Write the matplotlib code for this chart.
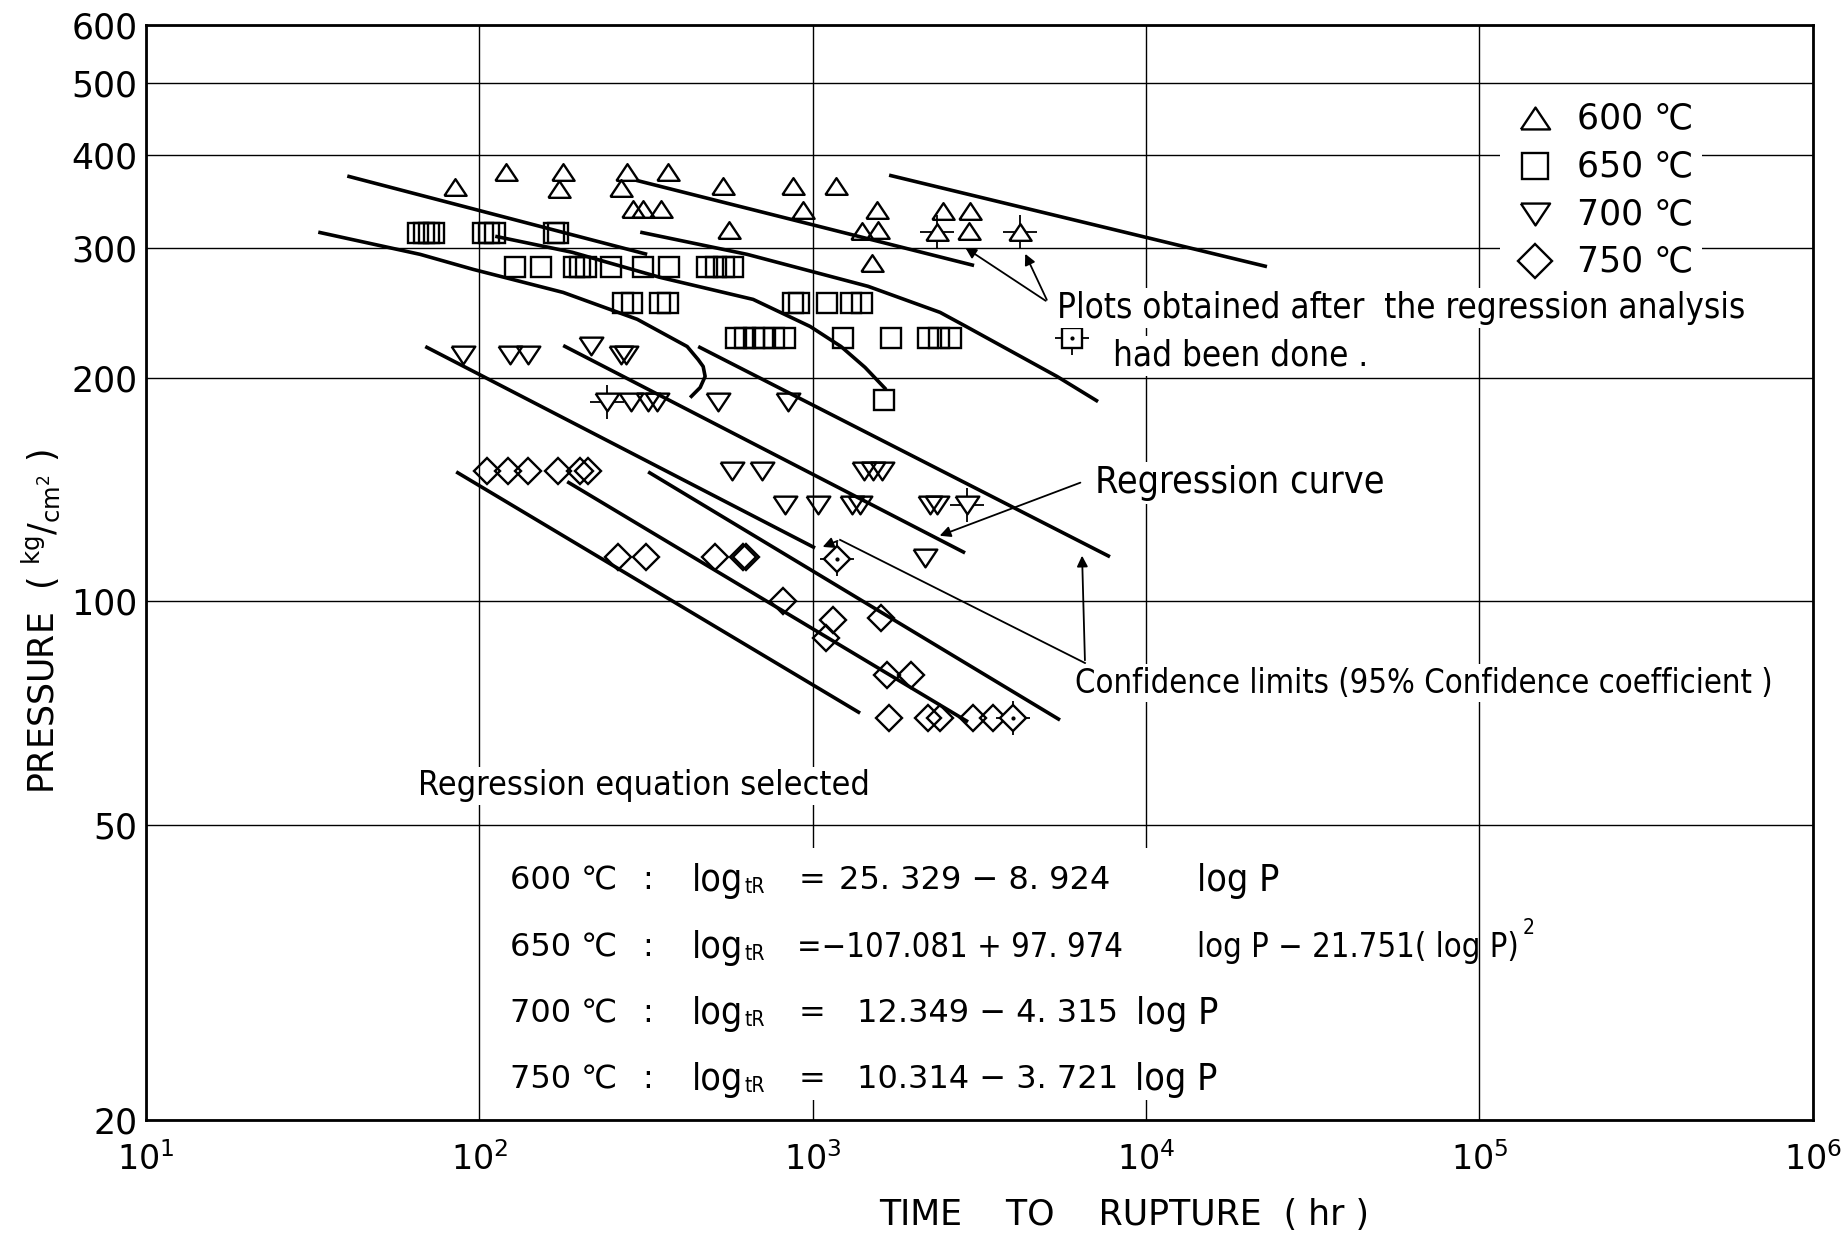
import matplotlib.pyplot as plt
from matplotlib.patches import Rectangle
from matplotlib.ticker import NullLocator

plt.rcParams['font.family'] = ['DejaVu Sans']
plt.rcParams['mathtext.default'] = 'regular'

# ozka pisava za opombe
OZKA = dict(family='DejaVu Sans', stretch='condensed')

# --- izmerki: cas do porusitve [h] in tlak [kg/cm2] ---
t_600 = [84.7, 120.4, 178.6, 173.8, 277.8, 266.6, 368.7, 289.7, 310.5, 351.6, 539.6,
         874, 1176, 562, 936.6, 1560, 1406, 1570, 1507, 2460, 2965, 2945]
p_600 = [362, 380, 380, 360, 380, 361, 380, 338, 338, 338, 363,
         363, 363, 317, 337, 337, 316, 317, 286, 336, 336, 316]
t_600_nov = [2361, 4188]
p_600_nov = [315, 315]

t_650 = [65.6, 68.4, 70.8, 73.3, 102.8, 107.1, 111.7, 168, 172.6,
         128.3, 153.5, 192.8, 201, 209.4, 248.8, 310.5, 371.5, 482.8, 513.8, 543.1, 577.9,
         270.4, 287.8, 349, 368.7, 874, 911, 1105, 1305, 1406,
         589.6, 627.6, 667.8, 710.6, 766.8, 827, 1235, 1719, 2218, 2393, 2600,
         1637]
p_650 = [314, 314, 314, 314, 314, 314, 314, 314, 314,
         283, 283, 283, 283, 283, 283, 283, 283, 283, 283, 283, 283,
         253, 253, 253, 253, 253, 253, 253, 253, 253,
         227, 227, 227, 227, 227, 227, 227, 227, 227, 227, 227,
         187]

t_700 = [89.6, 123.8, 140.3, 216.6, 266.6, 275.8,
         286, 321, 342, 521, 845,
         574, 706, 1426, 1517, 1615,
         827, 1039, 1312, 1387, 2249, 2361,
         2173]
p_700 = [215, 215, 215, 221, 215, 215,
         186, 186, 186, 186, 186,
         150, 150, 150, 150, 150,
         135, 135, 135, 135, 135, 135,
         114.5]
t_700_nov = [242, 2904]
p_700_nov = [186, 135]

t_750 = [105.7, 122.2, 140.3, 172.6, 201, 212.3,
         261, 317, 510, 619, 632,
         816, 1152, 1098, 1605,
         1673, 1974,
         1694, 2218, 2410, 3027, 3475]
p_750 = [150, 150, 150, 150, 150, 150,
         115, 115, 115, 115, 115,
         100, 94.4, 89.3, 95,
         79.6, 79.6,
         69.6, 69.6, 69.6, 69.6, 69.6]
t_750_nov = [1184, 3990]
p_750_nov = [114, 69.6]

# simbol pri opombi
t_oznaka = [5998]
p_oznaka = [227]

# --- regresijske krivulje in meje zaupanja ---
t_600_zg = [1696, 23060]
p_600_zg = [376, 283]
t_600_reg = [296, 3050]
p_600_reg = [370, 284]
t_600_sp = [40.2, 319]
p_600_sp = [375, 294]

t_650_zg = [304, 636.3, 1467, 2412, 2886, 5409, 7180]
p_650_zg = [315, 294, 266.2, 245.5, 235, 201.2, 186.1]
t_650_reg = [111.7, 190.1, 348.9, 663.2, 983, 1217, 1437, 1661]
p_650_reg = [311, 295.9, 273.7, 255.6, 235, 220.8, 206.9, 193.2]
t_650_sp = [32.9, 66.5, 95.9, 178.6, 297.8, 420.5, 453.7, 469.6, 476, 460, 429.2]
p_650_sp = [315, 294, 280.6, 261.2, 240.3, 220.8, 212, 207.5, 201.2, 194.4, 188.4]

t_700_zg = [453.7, 7798]
p_700_zg = [220.8, 114.9]
t_700_reg = [178.6, 2866]
p_700_reg = [221.5, 116.3]
t_700_sp = [68.9, 1017]
p_700_sp = [220.8, 118.1]

t_750_zg = [321.1, 5522]
p_750_zg = [149.6, 69.2]
t_750_reg = [183.6, 2926]
p_750_reg = [145.1, 68.8]
t_750_sp = [85.3, 1388]
p_750_sp = [149.6, 70.7]

y_oznake = [20, 50, 100, 200, 300, 400, 500, 600]
x_oznake = [1e1, 1e2, 1e3, 1e4, 1e5, 1e6]
x_napisi = [r'$10^{1}$', r'$10^{2}$', r'$10^{3}$', r'$10^{4}$', r'$10^{5}$', r'$10^{6}$']
legenda = ['600 ℃', '650 ℃', '700 ℃', '750 ℃']

# markerji (trikotnik je nizji kot sirok)
gor = [(-1, -0.75), (1, -0.75), (0, 0.75), (-1, -0.75)]
dol = [(-1, 0.75), (1, 0.75), (0, -0.75), (-1, 0.75)]

fig = plt.figure(figsize=(18.46, 12.43), dpi=100)
ax = fig.add_axes([0.079, 0.0993, 0.903, 0.8808])
ax.set_xscale('log')
ax.set_yscale('log')
ax.set_xlim(10, 1e6)
ax.set_ylim(20, 600)

ax.set_yticks(y_oznake)
ax.set_yticklabels([str(v) for v in y_oznake])
ax.set_xticks(x_oznake)
ax.set_xticklabels(x_napisi)
ax.yaxis.set_minor_locator(NullLocator())
ax.xaxis.set_minor_locator(NullLocator())
ax.tick_params(axis='y', length=0, labelsize=25, pad=6)
ax.tick_params(axis='x', length=0, labelsize=24, pad=16)
ax.grid(True, color='black', linewidth=1.0)
ax.set_axisbelow(True)
for s in ax.spines.values():
    s.set_linewidth(2.0)

# krivulje
crta = dict(color='black', linewidth=2.6, solid_capstyle='butt', zorder=2)
for tt, pp in [(t_600_zg, p_600_zg), (t_600_reg, p_600_reg), (t_600_sp, p_600_sp),
               (t_650_zg, p_650_zg), (t_650_reg, p_650_reg), (t_650_sp, p_650_sp),
               (t_700_zg, p_700_zg), (t_700_reg, p_700_reg), (t_700_sp, p_700_sp),
               (t_750_zg, p_750_zg), (t_750_reg, p_750_reg), (t_750_sp, p_750_sp)]:
    ax.plot(tt, pp, **crta)

# tocke
tocka = dict(linestyle='none', markerfacecolor='none', markeredgecolor='black',
             markeredgewidth=1.7, zorder=3)
ax.plot(t_600, p_600, marker=gor, markersize=16, **tocka)
ax.plot(t_650, p_650, marker='s', markersize=14.5, **tocka)
ax.plot(t_700, p_700, marker=dol, markersize=17, **tocka)
ax.plot(t_750, p_750, marker='D', markersize=13, **tocka)

# tocke dobljene po regresiji (s krizcem)
kriz = dict(linestyle='none', marker='+', markersize=24, markeredgewidth=1.3,
            color='black', zorder=3)
bela = dict(linestyle='none', markerfacecolor='white', markeredgecolor='black',
            markeredgewidth=1.7, zorder=3.5)
ax.plot(t_600_nov, p_600_nov, **kriz)
ax.plot(t_600_nov, p_600_nov, marker=gor, markersize=16, **bela)
ax.plot(t_700_nov, p_700_nov, **kriz)
ax.plot(t_700_nov, p_700_nov, marker=dol, markersize=17, **bela)
ax.plot(t_750_nov, p_750_nov, **kriz)
ax.plot(t_750_nov, p_750_nov, marker='D', markersize=13, **bela)
ax.plot(t_750_nov, p_750_nov, linestyle='none', marker='.', markersize=4, color='black', zorder=4)
ax.plot(t_oznaka, p_oznaka, **kriz)
ax.plot(t_oznaka, p_oznaka, marker='s', markersize=14.5, **bela)
ax.plot(t_oznaka, p_oznaka, linestyle='none', marker='.', markersize=4, color='black', zorder=4)

# legenda
ax.add_patch(Rectangle((0.8122, 0.7631), 0.1212, 0.1772, transform=ax.transAxes,
                       facecolor='white', edgecolor='none', zorder=1))
leg_y = [0.9148, 0.871, 0.8271, 0.7845]
leg_m = [(gor, 21), ('s', 19), (dol, 21), ('D', 17)]
for i in range(4):
    ax.plot([0.8332], [leg_y[i]], transform=ax.transAxes, marker=leg_m[i][0],
            markersize=leg_m[i][1], **tocka)
    ax.text(0.8584, leg_y[i], legenda[i], transform=ax.transAxes, fontsize=25,
            va='center', ha='left')

# puscice
puscica = dict(arrowstyle='-|>', color='black', lw=1.3, mutation_scale=16)
ax.annotate('', xy=(2827, 301.5), xytext=(5082, 253.3), arrowprops=puscica)
ax.annotate('', xy=(4307, 296.8), xytext=(5082, 253.3), arrowprops=puscica)
ax.annotate('', xy=(2362, 122.3), xytext=(6471, 145.1), arrowprops=puscica)
ax.annotate('', xy=(6427, 116.3), xytext=(6562, 82.6), arrowprops=puscica)
ax.plot([6562, 1209], [82.6, 121.1], color='black', lw=1.3, zorder=2)
ax.annotate('', xy=(1053, 118.1), xytext=(1209, 121.1), arrowprops=puscica)

# napisi
belo = dict(facecolor='white', edgecolor='none', pad=2)
fig.text(0.5726, 0.7522, 'Plots obtained after  the regression analysis',
         fontsize=25, va='center', ha='left', bbox=belo, **OZKA)
fig.text(0.6029, 0.7136, 'had been done .', fontsize=25,
         va='center', ha='left', bbox=belo, **OZKA)
fig.text(0.5932, 0.6114, 'Regression curve', fontsize=27,
         va='center', ha='left', bbox=belo, **OZKA)
fig.text(0.5823, 0.4505, 'Confidence limits (95% Confidence coefficient )',
         fontsize=23.5, va='center', ha='left', bbox=belo, **OZKA)
fig.text(0.2264, 0.3677, 'Regression equation selected', fontsize=24.5,
         va='center', ha='left', bbox=belo, **OZKA)

# enacbe
ax.add_patch(Rectangle((0.2124, 0.0179), 0.4769, 0.2302, transform=ax.transAxes,
                       facecolor='white', edgecolor='none', zorder=1))
vrstice = [0.2915, 0.2376, 0.1845, 0.1315]
temp = ['600 ℃', '650 ℃', '700 ℃', '750 ℃']
for i in range(4):
    fig.text(0.2763, vrstice[i], temp[i], fontsize=23, va='center', ha='left')
    fig.text(0.3478, vrstice[i], ':', fontsize=23, va='center', ha='left')
    fig.text(0.3749, vrstice[i], 'log', fontsize=27, va='center', ha='left', **OZKA)
    fig.text(0.4035, vrstice[i] - 0.005, 'tR', fontsize=15, va='center', ha='left', **OZKA)
    if i != 1:
        fig.text(0.4325, vrstice[i], '=', fontsize=23, va='center', ha='left')

fig.text(0.4545, vrstice[0], '25. 329 − 8. 924', fontsize=23, va='center', ha='left')
fig.text(0.6484, vrstice[0], 'log P', fontsize=27, va='center', ha='left', **OZKA)

fig.text(0.4318, vrstice[1], '=−107.081 + 97. 974', fontsize=23.5, va='center', ha='left', **OZKA)
desno = fig.text(0.6484, vrstice[1], 'log P − 21.751( log P)', fontsize=23.5,
                 va='center', ha='left', **OZKA)
# eksponent postavimo tik za konec izraza
r = fig.canvas.get_renderer()
konec = desno.get_window_extent(renderer=r).x1 / fig.bbox.width
fig.text(konec + 0.002, vrstice[1] + 0.016, '2', fontsize=15, va='center', ha='left', **OZKA)

fig.text(0.4643, vrstice[2], '12.349 − 4. 315', fontsize=23, va='center', ha='left')
fig.text(0.6154, vrstice[2], 'log P', fontsize=27, va='center', ha='left', **OZKA)
fig.text(0.4643, vrstice[3], '10.314 − 3. 721', fontsize=23, va='center', ha='left')
fig.text(0.6148, vrstice[3], 'log P', fontsize=27, va='center', ha='left', **OZKA)

# osi
fig.text(0.0222, 0.5004, r'PRESSURE  ( $^{kg}/_{cm^2}$ )', rotation=90, fontsize=25,
         va='center', ha='center')
fig.text(0.6089, 0.0225, 'TIME    TO    RUPTURE  ( hr )', fontsize=25, va='center', ha='center')

plt.savefig('out.png', dpi=100)
